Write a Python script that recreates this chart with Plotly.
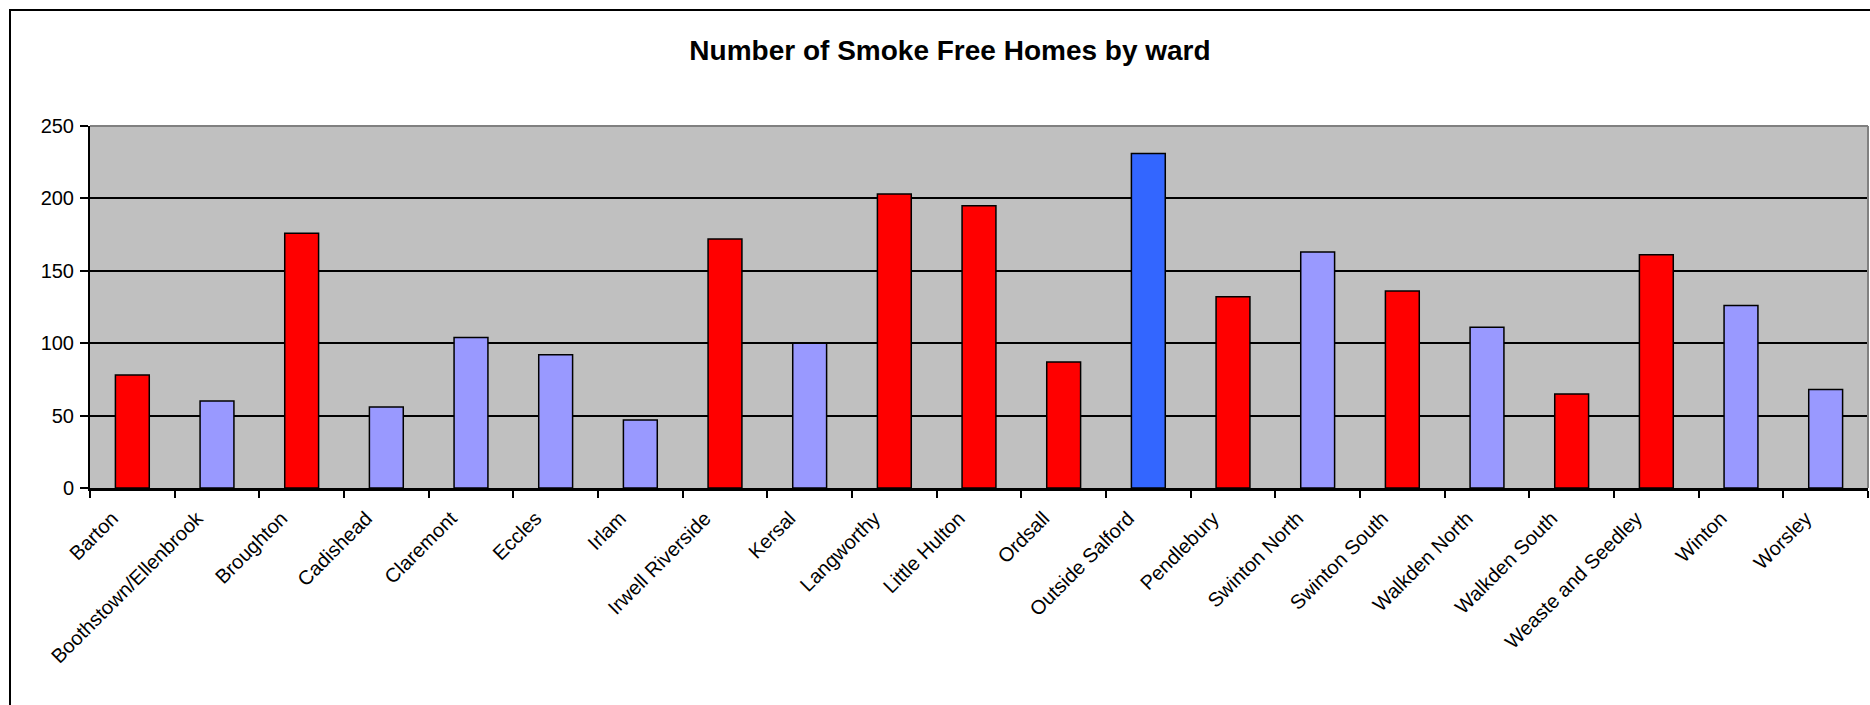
import plotly.graph_objects as go

# Ward names and counts of smoke free homes
wards = [
    "Barton", "Boothstown/Ellenbrook", "Broughton", "Cadishead", "Claremont",
    "Eccles", "Irlam", "Irwell Riverside", "Kersal", "Langworthy",
    "Little Hulton", "Ordsall", "Outside Salford", "Pendlebury",
    "Swinton North", "Swinton South", "Walkden North", "Walkden South",
    "Weaste and Seedley", "Winton", "Worsley",
]
homes = [78, 60, 176, 56, 104, 92, 47, 172, 100, 203, 195, 87, 231, 132,
         163, 136, 111, 65, 161, 126, 68]

y_ticks = [0, 50, 100, 150, 200, 250]

RED = "#FF0000"
LILAC = "#9999FF"
BLUE = "#3366FF"
bar_colors = [RED, LILAC, RED, LILAC, LILAC, LILAC, LILAC, RED, LILAC, RED,
              RED, RED, BLUE, RED, LILAC, RED, LILAC, RED, RED, LILAC, LILAC]

W, H = 1870, 705
L, R, T, B = 90, 2, 126, 217
pw, ph = W - L - R, H - T - B

FONT = "Liberation Sans, Arial, sans-serif"

fig = go.Figure(
    go.Bar(
        x=wards,
        y=homes,
        marker=dict(color=bar_colors, line=dict(color="black", width=1.5)),
        hoverinfo="x+y",
    )
)

fig.update_layout(
    width=W,
    height=H,
    margin=dict(l=L, r=R, t=T, b=B, pad=0),
    paper_bgcolor="white",
    plot_bgcolor="#C0C0C0",
    bargap=0.6,
    showlegend=False,
    font=dict(family=FONT, size=20, color="black"),
    title=dict(
        text="<b>Number of Smoke Free Homes by ward</b>",
        font=dict(family=FONT, size=28, color="black"),
        xref="container", yref="container",
        x=950 / W, y=1 - 50 / H,
        xanchor="center", yanchor="middle",
    ),
    xaxis=dict(
        tickangle=-45,
        tickson="boundaries",
        ticks="outside",
        ticklen=7,
        tickwidth=1.5,
        tickcolor="black",
        ticklabelstandoff=8,
        ticklabelshift=-20,
        showline=True,
        linecolor="black",
        linewidth=2.5,
        showgrid=False,
        tickfont=dict(family=FONT, size=20, color="black"),
        range=[-0.5, len(wards) - 0.5],
        fixedrange=True,
    ),
    yaxis=dict(
        range=[0, 250],
        tickvals=y_ticks,
        ticks="outside",
        ticklen=8,
        tickwidth=1.5,
        tickcolor="black",
        ticklabelstandoff=2,
        showline=True,
        linecolor="black",
        linewidth=2,
        showgrid=True,
        gridcolor="black",
        gridwidth=1.5,
        zeroline=False,
        tickfont=dict(family=FONT, size=20, color="black"),
        fixedrange=True,
    ),
    shapes=[
        # grey plot-area border along the top and right edges
        dict(type="line", xref="paper", yref="paper", x0=0, x1=1, y0=1, y1=1,
             line=dict(color="#808080", width=2), layer="above"),
        dict(type="line", xref="paper", yref="paper", x0=1, x1=1, y0=0, y1=1,
             line=dict(color="#808080", width=2), layer="above"),
        # outer chart frame
        dict(type="rect", xref="paper", yref="paper",
             x0=(10 - L) / pw, x1=(W + 20 - L) / pw,
             y0=-(B + 20) / ph, y1=1 + (T - 10) / ph,
             line=dict(color="black", width=2), layer="above"),
    ],
)

fig.write_html("out.html")
